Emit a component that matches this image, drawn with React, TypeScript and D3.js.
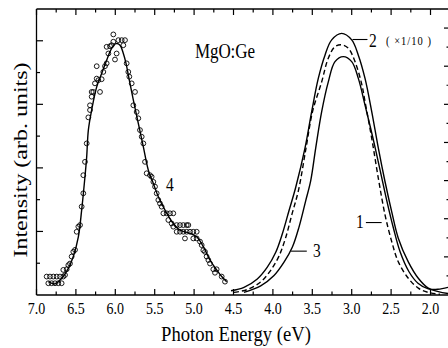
import { useEffect, useRef } from "react"
import * as d3 from "d3"

// curve 4 : fitted line (eV, intensity on left scale)
const fit4 = [
  [6.85, 0.42], [6.765, 0.35], [6.681, 0.52], [6.596, 0.84], [6.533, 1.21], [6.469, 1.83],
  [6.427, 2.67], [6.385, 3.72], [6.363, 4.35], [6.342, 5.19], [6.3, 5.82], [6.236, 6.55],
  [6.173, 6.97], [6.11, 7.39], [6.046, 7.76], [5.991, 7.91], [5.94, 7.86], [5.898, 7.6],
  [5.864, 7.29], [5.822, 6.76], [5.771, 6.13], [5.708, 5.4], [5.644, 4.66], [5.581, 3.93],
  [5.517, 3.51], [5.454, 3.09], [5.369, 2.67], [5.264, 2.25], [5.179, 2.04], [5.052, 1.94],
  [4.967, 1.83], [4.883, 1.52], [4.798, 1.1], [4.714, 0.79], [4.65, 0.58], [4.587, 0.42],
]

// curve 4 : measured points
const dots4 = [
  [6.871, 0.58], [6.829, 0.58], [6.786, 0.58], [6.744, 0.58], [6.702, 0.58], [6.66, 0.58],
  [6.85, 0.37], [6.808, 0.37], [6.765, 0.37], [6.723, 0.37], [6.681, 0.37], [6.638, 0.63],
  [6.66, 0.79], [6.617, 0.81], [6.596, 0.94], [6.575, 0.99], [6.554, 1.21], [6.533, 1.36],
  [6.511, 1.42], [6.49, 1.99], [6.469, 2.15], [6.448, 2.2], [6.427, 2.78], [6.406, 3.2],
  [6.406, 3.77], [6.385, 4.19], [6.363, 4.77], [6.342, 5.59], [6.321, 5.82], [6.321, 5.97],
  [6.3, 6.24], [6.3, 6.39], [6.279, 6.39], [6.258, 6.66], [6.236, 6.81], [6.215, 6.76],
  [6.194, 6.39], [6.173, 6.79], [6.236, 7.2], [6.152, 7.02], [6.131, 7.2], [6.11, 7.29],
  [6.088, 7.6], [6.11, 7.81], [6.067, 7.83], [6.046, 7.86], [6.025, 8.2], [6.025, 7.97],
  [5.983, 7.6], [6.004, 7.41], [5.961, 8.02], [5.919, 8.02], [5.877, 8.02], [5.898, 7.86],
  [5.856, 7.29], [5.835, 7.02], [5.822, 6.87], [5.792, 6.66], [5.75, 6.39], [5.771, 5.97],
  [5.729, 5.76], [5.708, 5.56], [5.687, 5.19], [5.665, 4.98], [5.644, 4.77], [5.623, 4.19],
  [5.602, 3.83], [5.56, 3.77], [5.539, 3.72], [5.517, 3.56], [5.496, 3.41], [5.475, 3.2],
  [5.454, 2.99], [5.433, 2.88], [5.412, 2.78], [5.39, 2.57], [5.348, 2.57], [5.306, 2.57],
  [5.264, 2.57], [5.327, 2.36], [5.285, 2.25], [5.264, 2.15], [5.221, 2.2], [5.179, 2.2],
  [5.137, 2.2], [5.094, 2.2], [5.073, 2.2], [5.221, 1.99], [5.179, 1.99], [5.137, 1.99],
  [5.094, 1.99], [5.052, 1.99], [5.01, 1.99], [4.967, 1.99], [5.116, 1.78], [5.01, 1.78],
  [4.967, 1.78], [4.925, 1.68], [4.904, 1.57], [4.883, 1.41], [4.862, 1.36], [4.841, 1.21],
  [4.819, 1.1], [4.798, 0.99], [4.756, 0.81], [4.714, 0.81], [4.735, 0.7], [4.65, 0.58],
  [4.608, 0.42],
]

// curves 1-3 (eV, intensity on right scale)
const curve1 = [
  [4.494, 0.07], [4.329, 0.14], [4.157, 0.34], [4.03, 0.64], [3.923, 1.02], [3.84, 1.49],
  [3.758, 2.12], [3.675, 2.75], [3.58, 3.85], [3.497, 4.81], [3.381, 5.59], [3.297, 6.21],
  [3.212, 6.51], [3.127, 6.56], [3.043, 6.47], [2.958, 6.12], [2.873, 5.53], [2.831, 5.07],
  [2.746, 4.11], [2.662, 3.06], [2.577, 2.1], [2.492, 1.4], [2.409, 0.87], [2.282, 0.44],
  [2.155, 0.18], [2.032, 0.07], [1.879, 0.02],
]
const curve2 = [
  [4.532, 0.11], [4.367, 0.2], [4.198, 0.42], [4.071, 0.73], [3.964, 1.12], [3.881, 1.6],
  [3.796, 2.21], [3.711, 2.82], [3.593, 3.85], [3.508, 4.81], [3.424, 5.68], [3.339, 6.29],
  [3.254, 6.69], [3.127, 6.86], [3.0, 6.69], [2.916, 6.29], [2.831, 5.68], [2.746, 4.81],
  [2.662, 3.85], [2.577, 2.97], [2.492, 2.18], [2.409, 1.49], [2.282, 0.87], [2.155, 0.44],
  [2.028, 0.18], [1.901, 0.09], [1.778, 0.04],
]
const curve3 = [
  [4.367, 0.07], [4.155, 0.24], [3.986, 0.51], [3.859, 0.86], [3.754, 1.25], [3.669, 1.78],
  [3.584, 2.47], [3.52, 3.0], [3.455, 3.88], [3.381, 4.81], [3.297, 5.59], [3.212, 6.12],
  [3.107, 6.25], [3.0, 6.12], [2.916, 5.68], [2.831, 4.98], [2.73, 4.11], [2.635, 3.23],
  [2.552, 2.45], [2.47, 1.75], [2.387, 1.14], [2.273, 0.61], [2.159, 0.31], [2.028, 0.16],
  [1.905, 0.15], [1.778, 0.2],
]

const xTickValues = [7.0, 6.5, 6.0, 5.5, 5.0, 4.5, 4.0, 3.5, 3.0, 2.5, 2.0]
const xTickLabels = ["7.0", "6.5", "6.0", "5.5", "5.0", "4.5", "4.0", "3.5", "3.0", "2.5", "2.0"]

const W = 448
const H = 348
const serif = '"Liberation Serif", "Times New Roman", serif'

export default function App() {
  const svgRef = useRef<SVGSVGElement | null>(null)

  useEffect(() => {
    if (!svgRef.current) return
    const svg = d3.select(svgRef.current)
    svg.selectAll("*").remove()

    const left = 36.5, right = 448, top = 9, bottom = 295
    const x = d3.scaleLinear().domain([7.0, 1.778]).range([left, right])
    const yL = d3.scaleLinear().domain([0, 9]).range([bottom, top])
    const yR = d3.scaleLinear().domain([0, 7.5]).range([bottom, top])

    // frame
    const frame = svg.append("g").attr("stroke", "#000").attr("stroke-width", 1.3).attr("fill", "none")
    frame.append("line").attr("x1", left).attr("x2", right).attr("y1", bottom).attr("y2", bottom)
    frame.append("line").attr("x1", left).attr("x2", right).attr("y1", top).attr("y2", top)
    frame.append("line").attr("x1", left).attr("x2", left).attr("y1", top).attr("y2", bottom)

    // x ticks, bottom (up) and top (down)
    const xMinor = d3.range(0, 21).map((i) => 7 - i * 0.25).filter((v) => v >= 1.8)
    const ticks = svg.append("g").attr("stroke", "#000").attr("stroke-width", 1.2)
    xMinor.forEach((v, i) => {
      const len = i % 2 === 0 ? 6 : 3.5
      ticks.append("line").attr("x1", x(v)).attr("x2", x(v)).attr("y1", bottom).attr("y2", bottom - len)
      ticks.append("line").attr("x1", x(v)).attr("x2", x(v)).attr("y1", top).attr("y2", top + len)
    })
    // left ticks
    d3.range(1, 9).forEach((v) => {
      const len = v % 2 === 0 ? 6.5 : 3.5
      ticks.append("line").attr("x1", left).attr("x2", left + len).attr("y1", yL(v)).attr("y2", yL(v))
    })
    // right ticks (axis sits just past the edge)
    d3.range(1, 15).map((k) => k * 0.5).forEach((v) => {
      const len = Number.isInteger(v) ? 5 : 2.5
      ticks.append("line").attr("x1", 449).attr("x2", 449 - len).attr("y1", yR(v)).attr("y2", yR(v))
    })

    // tick labels
    svg.append("g")
      .selectAll("text")
      .data(xTickValues)
      .enter()
      .append("text")
      .attr("transform", (d) => `translate(${x(d)},314) scale(1,1.25)`)
      .attr("text-anchor", "middle")
      .style("font-family", serif)
      .style("font-size", "14px")
      .text((d, i) => xTickLabels[i])

    // axis titles
    svg.append("text")
      .attr("transform", `translate(236,341) scale(1,1.25)`)
      .attr("text-anchor", "middle")
      .attr("textLength", 150)
      .attr("lengthAdjust", "spacingAndGlyphs")
      .style("font-family", serif)
      .style("font-size", "17.5px")
      .text("Photon Energy (eV)")
    svg.append("text")
      .attr("transform", `translate(27,160) rotate(-90)`)
      .attr("text-anchor", "middle")
      .attr("textLength", 195)
      .attr("lengthAdjust", "spacingAndGlyphs")
      .style("font-family", serif)
      .style("font-size", "19px")
      .text("Intensity (arb. units)")

    // curves
    const lineL = d3.line<number[]>().x((d) => x(d[0])).y((d) => yL(d[1])).curve(d3.curveCatmullRom)
    const lineR = d3.line<number[]>().x((d) => x(d[0])).y((d) => yR(d[1])).curve(d3.curveCatmullRom)

    svg.append("path").attr("d", lineL(fit4)).attr("fill", "none").attr("stroke", "#000").attr("stroke-width", 1.4)
    svg.append("path").attr("d", lineR(curve2)).attr("fill", "none").attr("stroke", "#000").attr("stroke-width", 1.4)
    svg.append("path").attr("d", lineR(curve3)).attr("fill", "none").attr("stroke", "#000").attr("stroke-width", 1.4)
    svg.append("path").attr("d", lineR(curve1)).attr("fill", "none").attr("stroke", "#000")
      .attr("stroke-width", 1.4).attr("stroke-dasharray", "5,3")

    svg.append("g")
      .selectAll("circle")
      .data(dots4)
      .enter()
      .append("circle")
      .attr("cx", (d) => x(d[0]))
      .attr("cy", (d) => yL(d[1]))
      .attr("r", 2.4)
      .attr("fill", "none")
      .attr("stroke", "#000")
      .attr("stroke-width", 0.9)

    // annotations
    const txt = (tx: number, ty: number, s: string, size: number, len?: number) => {
      const t = svg.append("text")
        .attr("transform", `translate(${tx},${ty}) scale(1,1.25)`)
        .style("font-family", serif)
        .style("font-size", `${size}px`)
        .text(s)
      if (len) t.attr("textLength", len).attr("lengthAdjust", "spacing")
      return t
    }
    const lead = (x1: number, x2: number, yy: number) =>
      svg.append("line").attr("x1", x1).attr("x2", x2).attr("y1", yy).attr("y2", yy)
        .attr("stroke", "#000").attr("stroke-width", 1.1)

    txt(195, 58, "MgO:Ge", 17, 60)
    lead(x(2.99), x(2.8), yR(6.7))
    txt(369, 47, "2", 15.5)
    txt(386, 45, "( ×1/10 )", 10.5, 45)
    lead(x(2.82), x(2.62), yR(1.9))
    txt(356, 228, "1", 15.5)
    lead(x(3.77), x(3.57), yR(1.15))
    txt(313, 257, "3", 15.5)
    txt(166, 191, "4", 15.5)
  }, [])

  return (
    <svg
      ref={svgRef}
      width={W}
      height={H}
      style={{ position: "absolute", left: 0, top: 0, background: "#fff" }}
    ></svg>
  )
}
